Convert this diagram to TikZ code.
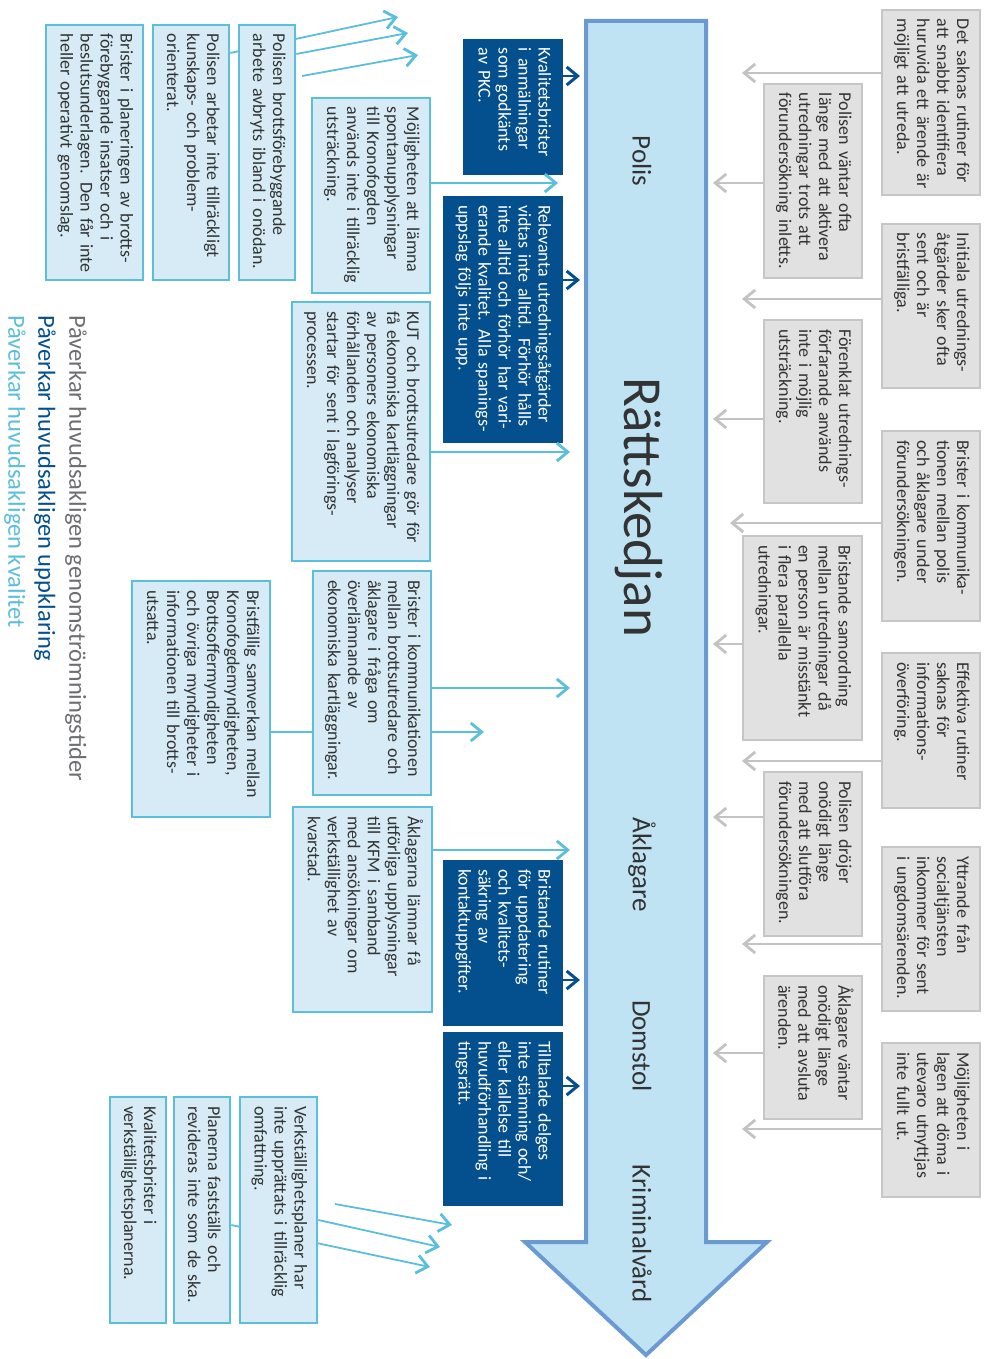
\documentclass[tikz,border=0pt]{standalone}
\usepackage{fontspec}
\setmainfont{Carlito}
\usetikzlibrary{arrows.meta}
\pgfdeclarelayer{back}
\pgfdeclarelayer{bg}
\pgfsetlayers{back,bg,main}
\definecolor{lfill}{HTML}{D6EBF5}
\definecolor{lborder}{HTML}{5BBFDC}
\definecolor{dfill}{HTML}{04508F}
\definecolor{gfill}{HTML}{E1E1E1}
\definecolor{gborder}{HTML}{C6C6C6}
\definecolor{garr}{HTML}{C3C3C3}
\definecolor{txt}{HTML}{333333}
\definecolor{afill}{HTML}{BFE3F3}
\definecolor{aborder}{HTML}{6A9AD1}
\definecolor{leggray}{HTML}{6D6E71}
\newcommand\bt[1]{\begin{tabular}{@{}l@{}}#1\end{tabular}}
\begin{document}
\begin{tikzpicture}[x=1pt,y=-1pt,
  bx/.style={rotate=-90, inner xsep=9pt, inner ysep=0pt, align=left,
    font=\fontsize{18}{20}\selectfont, anchor=center},
  sz/.style n args={3}{minimum width=#1pt, minimum height=#2pt, text width=#3pt},
  lbox/.style={bx, fill=lfill, draw=lborder, line width=2.6pt, text=txt},
  dbox/.style={bx, fill=dfill, draw=dfill, line width=0.5pt, text=white},
  gbox/.style={bx, fill=gfill, draw=gborder, line width=2.4pt, text=txt},
  larrow/.style={draw=lborder, line width=1.8pt, -{Straight Barb[length=11pt,width=18pt,line width=2.8pt]}},
  lline/.style={draw=lborder, line width=1.8pt},
  darrow/.style={draw=dfill, line width=2pt, -{Straight Barb[length=11pt,width=18pt,line width=3pt]}},
  garrow/.style={draw=garr, line width=1.8pt, -{Straight Barb[length=11pt,width=18pt,line width=2.8pt]}},
  stage/.style={rotate=-90, inner sep=0pt, text=black!80, font=\fontsize{27}{30}\selectfont},
  legend/.style={rotate=-90, inner sep=0pt, anchor=west, font=\fontsize{24.5}{28}\selectfont}
]
\useasboundingbox (0,0) rectangle (985,1359);
\begin{pgfonlayer}{back}
\fill[white] (0,0) rectangle (985,1359);
\end{pgfonlayer}

% big arrow
\draw[fill=afill, draw=aborder, line width=4pt, line join=miter]
  (586,21) -- (706,21) -- (706,1242) -- (767,1242) -- (646,1355) -- (525,1242) -- (586,1242) -- cycle;
\node[stage] (polis) at (642,161) {Polis};
\node[stage, font=\fontsize{55}{60}\selectfont] (ratt) at (639,507) {Rättskedjan};
\node[stage] (akl) at (642,865) {Åklagare};
\node[stage] (dom) at (642,1046) {Domstol};
\node[stage] (krim) at (642,1234) {Kriminalvård};

% right gray boxes, outer column
\node[gbox, sz={185}{98}{167}] (g1) at (931,102.5) {\bt{Det saknas rutiner för\\att snabbt identifiera\\huruvida ett ärende är\\möjligt att utreda.}};
\node[gbox, sz={164}{98}{146}] (g2) at (931,306) {\bt{Initiala utrednings-\\åtgärder sker ofta\\sent och är\\bristfälliga.}};
\node[gbox, sz={190}{98}{172}] (g3) at (931,526) {\bt{Brister i kommunika-\\tionen mellan polis\\och åklagare under\\förundersökningen.}};
\node[gbox, sz={155}{98}{137}] (g4) at (931,730.5) {\bt{Effektiva rutiner\\saknas för\\informations-\\överföring.}};
\node[gbox, sz={164}{98}{146}] (g5) at (931,929) {\bt{Yttrande från\\socialtjänsten\\inkommer för sent\\i ungdomsärenden.}};
\node[gbox, sz={154}{98}{136}] (g6) at (931,1120) {\bt{Möjligheten i\\lagen att döma i\\utevaro utnyttjas\\inte fullt ut.}};
% inner column
\node[gbox, sz={194}{98}{176}] (h1) at (813,181) {\bt{Polisen väntar ofta\\länge med att aktivera\\utredningar trots att\\förundersökning inletts.}};
\node[gbox, sz={183}{98}{165}] (h2) at (813,411.5) {\bt{Förenklat utrednings-\\förfarande används\\inte i möjlig\\utsträckning.}};
\node[gbox, sz={204}{119}{186}] (h3) at (802.5,638) {\bt{Bristande samordning\\mellan utredningar då\\en person är misstänkt\\i flera parallella\\utredningar.}};
\node[gbox, sz={164}{98}{146}] (h4) at (813,854) {\bt{Polisen dröjer\\onödigt länge\\med att slutföra\\förundersökningen.}};
\node[gbox, sz={143}{98}{125}] (h5) at (813,1047.5) {\bt{Åklagare väntar\\onödigt länge\\med att avsluta\\ärenden.}};

\coordinate (tg1) at (742,73);
\coordinate (tg2) at (742,299);
\coordinate (tg3) at (730,523);
\coordinate (tg4) at (742,761);
\coordinate (tg5) at (742,944);
\coordinate (tg6) at (742,1129);
\coordinate (th1) at (713,183);
\coordinate (th2) at (713,419);
\coordinate (th3) at (713,644);
\coordinate (th4) at (713,817);
\coordinate (th5) at (713,1053);
\foreach \n in {g1,g2,g3,g4,g5,g6,h1,h2,h3,h4,h5}{
  \draw[garrow] (\n.south |- t\n) -- (t\n);
}

% left light boxes
\node[lbox, sz={255}{56}{237}] (A) at (267,152.5) {\bt{Polisen brottsförebyggande\\arbete avbryts ibland i onödan.}};
\node[lbox, sz={255}{76}{237}] (B) at (191,152.5) {\bt{Polisen arbetar inte tillräckligt\\kunskaps- och problem-\\orienterat.}};
\node[lbox, sz={255}{97}{237}] (C) at (94.5,152.5) {\bt{Brister i planeringen av brotts-\\förebyggande insatser och i\\beslutsunderlagen. Den får inte\\heller operativt genomslag.}};
\node[lbox, sz={195}{118}{177}] (D) at (371,195.5) {\bt{Möjligheten att lämna\\spontanupplysningar\\till Kronofogden\\används inte i tillräcklig\\utsträckning.}};
\node[lbox, sz={259}{138}{241}] (E) at (361,431.5) {\bt{KUT och brottsutredare gör för\\få ekonomiska kartläggningar\\av personers ekonomiska\\förhållanden och analyser\\startar för sent i lagförings-\\processen.}};
\node[lbox, sz={224}{118}{206}] (F) at (372,683) {\bt{Brister i kommunikationen\\mellan brottsutredare och\\åklagare i fråga om\\överlämnande av\\ekonomiska kartläggningar.}};
\node[lbox, sz={236}{138}{218}] (G) at (201,699) {\bt{Bristfällig samverkan mellan\\Kronofogdemyndigheten,\\Brottsoffermyndigheten\\och övriga myndigheter i\\informationen till brotts-\\utsatta.}};
\node[lbox, sz={205}{139}{187}] (H) at (362.5,909.5) {\bt{Åklagarna lämnar få\\utförliga upplysningar\\till KFM i samband\\med ansökningar om\\verkställighet av\\kvarstad.}};
\node[lbox, sz={226}{77}{208}] (M) at (278.5,1210) {\bt{Verkställighetsplaner har\\inte upprättats i tillräcklig\\omfattning.}};
\node[lbox, sz={226}{56}{208}] (N) at (202,1210) {\bt{Planerna fastställs och\\revideras inte som de ska.}};
\node[lbox, sz={226}{56}{208}] (O) at (138,1210) {\bt{Kvalitetsbrister i\\verkställighetsplanerna.}};

% dark boxes
\node[dbox, sz={135}{99}{117}] (I) at (512.5,106.5) {\bt{Kvalitetsbrister\\i anmälningar\\som godkänts\\av PKC.}};
\node[dbox, sz={246}{119}{228}] (J) at (502.5,319) {\bt{Relevanta utredningsåtgärder\\vidtas inte alltid. Förhör hålls\\inte alltid och förhör har vari-\\erande kvalitet. Alla spanings-\\uppslag följs inte upp.}};
\node[dbox, sz={165}{119}{147}] (K) at (502.5,942.5) {\bt{Bristande rutiner\\för uppdatering\\och kvalitets-\\säkring av\\kontaktuppgifter.}};
\node[dbox, sz={173}{119}{155}] (L) at (502.5,1118.5) {\bt{Tilltalade delges\\inte stämning och/\\eller kallelse till\\huvudförhandling i\\tingsrätt.}};

% arrows from left
\coordinate (tD) at (558,183);
\coordinate (tE) at (570,452);
\coordinate (tF) at (570,688);
\coordinate (tFb) at (484,732);
\coordinate (tH) at (570,850);
\coordinate (tI) at (580,76);
\coordinate (tJ) at (580,280);
\coordinate (tK) at (580,980);
\coordinate (tL) at (580,1086);
\draw[larrow] (D.north |- tD) -- (tD);
\draw[larrow] (E.north |- tE) -- (tE);
\draw[larrow] (F.north |- tF) -- (tF);
\draw[larrow] (F.north |- tFb) -- (tFb);
\draw[lline] (G.north |- tFb) -- (F.south |- tFb);
\draw[larrow] (H.north |- tH) -- (tH);
\draw[darrow] (I.north |- tI) -- (tI);
\draw[darrow] (J.north |- tJ) -- (tJ);
\draw[darrow] (K.north |- tK) -- (tK);
\draw[darrow] (L.north |- tL) -- (tL);

% converging arrows (behind boxes)
\coordinate (tA1) at (398,17);
\coordinate (tA2) at (408,33);
\coordinate (tA3) at (418,55);
\coordinate (sA3) at (302,76);
\coordinate (tM1) at (452,1225);
\coordinate (tM2) at (440,1247);
\coordinate (tM3) at (430,1267);
\coordinate (sM1) at (335,1204);
\begin{pgfonlayer}{bg}
\draw[larrow] (B.north |- 0,53) -- (tA1);
\draw[larrow] (A.north |- 0,54) -- (tA2);
\draw[larrow] (sA3) -- (tA3);
\draw[larrow] (sM1) -- (tM1);
\draw[larrow] (M.north |- 0,1220) -- (tM2);
\draw[larrow] (N.north |- 0,1225) -- (tM3);
\end{pgfonlayer}

% legend
\node[legend, text=leggray] (leg1) at (76,315) {Påverkar huvudsakligen genomströmningstider};
\node[legend, text=dfill] (leg2) at (45,315) {Påverkar huvudsakligen uppklaring};
\node[legend, text=lborder] (leg3) at (15,315) {Påverkar huvudsakligen kvalitet};
\end{tikzpicture}
\end{document}
